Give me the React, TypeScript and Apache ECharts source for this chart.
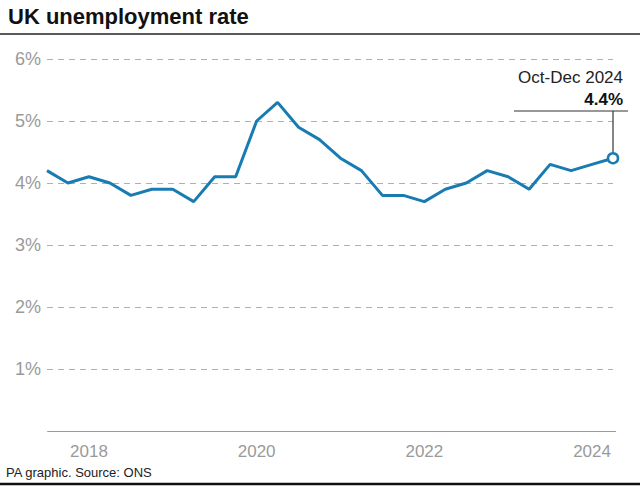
import React, { useEffect, useRef } from "react";
import * as echarts from "echarts";

const quarters = [
  "Jan-Mar 2018", "Apr-Jun 2018", "Jul-Sep 2018", "Oct-Dec 2018",
  "Jan-Mar 2019", "Apr-Jun 2019", "Jul-Sep 2019", "Oct-Dec 2019",
  "Jan-Mar 2020", "Apr-Jun 2020", "Jul-Sep 2020", "Oct-Dec 2020",
  "Jan-Mar 2021", "Apr-Jun 2021", "Jul-Sep 2021", "Oct-Dec 2021",
  "Jan-Mar 2022", "Apr-Jun 2022", "Jul-Sep 2022", "Oct-Dec 2022",
  "Jan-Mar 2023", "Apr-Jun 2023", "Jul-Sep 2023", "Oct-Dec 2023",
  "Jan-Mar 2024", "Apr-Jun 2024", "Jul-Sep 2024", "Oct-Dec 2024",
];

const rates = [
  4.2, 4.0, 4.1, 4.0,
  3.8, 3.9, 3.9, 3.7,
  4.1, 4.1, 5.0, 5.3,
  4.9, 4.7, 4.4, 4.2,
  3.8, 3.8, 3.7, 3.9,
  4.0, 4.2, 4.1, 3.9,
  4.3, 4.2, 4.3, 4.4,
];

const yearLabelIndices = [2, 10, 18, 26];

const title = "UK unemployment rate";
const footer = "PA graphic. Source: ONS";

const FONT = "'Liberation Sans', Arial, Helvetica, sans-serif";
const BLUE = "#187cb3";

export default function App() {
  const ref = useRef<HTMLDivElement>(null);

  useEffect(() => {
    if (!ref.current) return;
    const chart = echarts.init(ref.current, undefined, { renderer: "svg" });
    const last = rates.length - 1;
    const data = rates.map((v, i) =>
      i === last
        ? {
            value: v,
            symbol: "circle",
            symbolSize: 10,
            itemStyle: { color: "#fff", borderColor: BLUE, borderWidth: 2.5 },
          }
        : { value: v, symbol: "none" }
    );

    chart.setOption({
      animation: false,
      textStyle: { fontFamily: FONT },
      grid: { left: 47, right: 27, top: 59, bottom: 57, containLabel: false },
      xAxis: {
        type: "category",
        data: quarters,
        boundaryGap: false,
        axisLine: { show: false },
        axisTick: { show: false },
        axisLabel: {
          interval: (i: number) => yearLabelIndices.includes(i),
          formatter: (v: string) => v.slice(-4),
          color: "#9a9a9a",
          fontSize: 17,
          margin: 12,
          fontFamily: FONT,
        },
        splitLine: { show: false },
      },
      yAxis: {
        type: "value",
        min: 0,
        max: 6,
        interval: 1,
        axisLine: { show: false },
        axisTick: { show: false },
        axisLabel: {
          formatter: (v: number) => (v === 0 ? "" : `${v}%`),
          color: "#9a9a9a",
          fontSize: 18,
          margin: 6,
          fontFamily: FONT,
        },
        splitLine: {
          show: true,
          lineStyle: { color: "#b0b0b0", type: [6, 5], width: 1 },
        },
      },
      series: [
        {
          type: "line",
          data,
          showSymbol: true,
          lineStyle: { color: BLUE, width: 3 },
          itemStyle: { color: BLUE },
          z: 3,
        },
      ],
    });

    const [px, py] = chart.convertToPixel({ seriesIndex: 0 }, [last, rates[last]]) as number[];
    const [, y0] = chart.convertToPixel({ seriesIndex: 0 }, [0, 0]) as number[];

    chart.setOption({
      graphic: [
        {
          type: "text",
          left: 8,
          top: 5,
          style: { text: title, fontSize: 22, fontWeight: "bold", fill: "#111", fontFamily: FONT },
        },
        {
          type: "line",
          shape: { x1: 0, y1: 34, x2: 640, y2: 34 },
          style: { stroke: "#222", lineWidth: 1.5 },
        },
        {
          type: "line",
          shape: { x1: 48, y1: y0 + 0.5, x2: 616, y2: y0 + 0.5 },
          style: { stroke: "#9a9a9a", lineWidth: 1.2 },
        },
        {
          type: "text",
          x: 623,
          y: 77,
          style: {
            text: quarters[last],
            fontSize: 17,
            fill: "#222",
            align: "right",
            verticalAlign: "middle",
            fontFamily: FONT,
          },
        },
        {
          type: "text",
          x: 623,
          y: 99,
          style: {
            text: `${rates[last].toFixed(1)}%`,
            fontSize: 17,
            fontWeight: "bold",
            fill: "#111",
            align: "right",
            verticalAlign: "middle",
            fontFamily: FONT,
          },
        },
        {
          type: "line",
          shape: { x1: 514, y1: 111, x2: 628, y2: 111 },
          style: { stroke: "#333", lineWidth: 1.2 },
        },
        {
          type: "line",
          shape: { x1: px, y1: 111, x2: px, y2: py - 6 },
          style: { stroke: "#333", lineWidth: 1.2 },
        },
        {
          type: "text",
          x: 6,
          y: 472,
          style: {
            text: footer,
            fontSize: 13,
            fill: "#222",
            verticalAlign: "middle",
            fontFamily: FONT,
          },
        },
        {
          type: "line",
          shape: { x1: 0, y1: 484, x2: 640, y2: 484 },
          style: { stroke: "#111", lineWidth: 2.5 },
        },
      ],
    });

    return () => chart.dispose();
  }, []);

  return (
    <div
      ref={ref}
      style={{ position: "fixed", left: 0, top: 0, width: 640, height: 488, background: "#fff" }}
    />
  );
}
